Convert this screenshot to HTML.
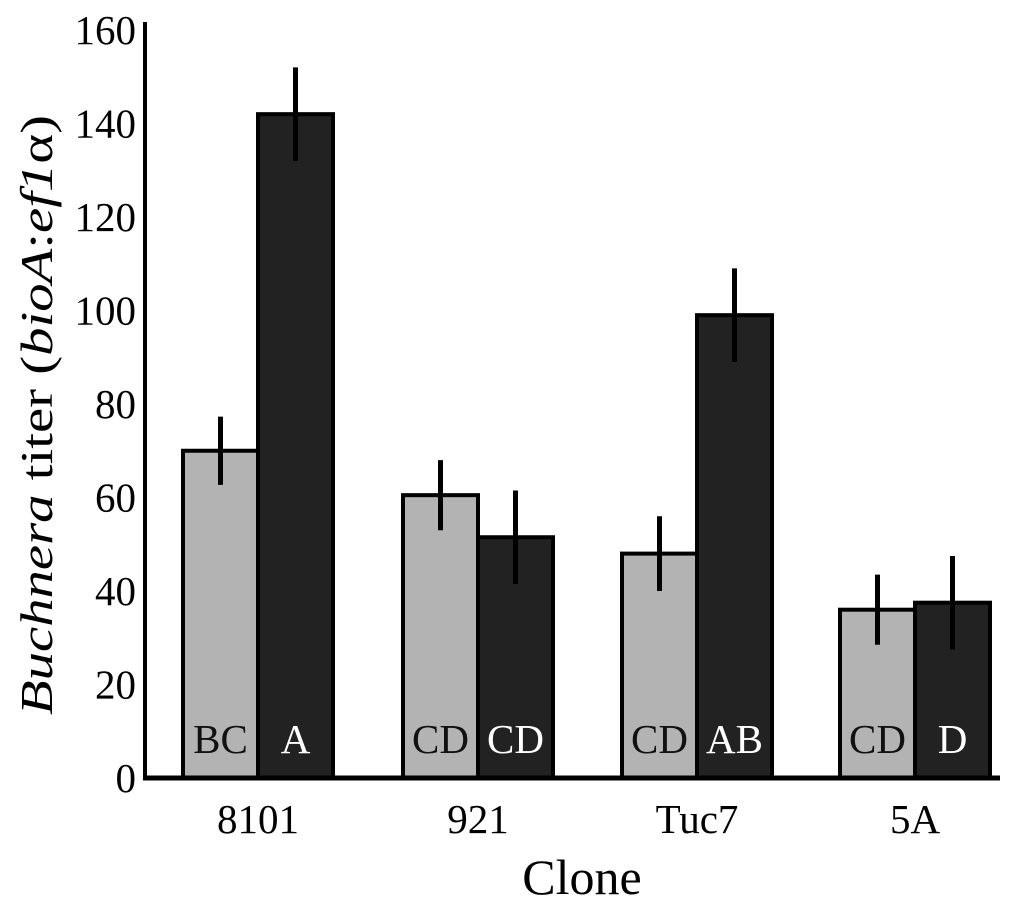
<!DOCTYPE html>
<html><head><meta charset="utf-8"><style>
body{margin:0;background:#fff;}
svg text{font-family:"Liberation Serif",serif;}
</style></head><body>
<svg id="chart" width="1024" height="906" xmlns="http://www.w3.org/2000/svg">
<g id="bars"></g>
<g id="axes"></g>
</svg>
<script>
const categories = ["8101","921","Tuc7","5A"];
const lightValues = [70,60.5,48,36];
const darkValues = [142,51.5,99,37.5];
const lightErr = [7.3,7.5,8,7.5];
const darkErr = [10,10,10,10];
const lightLetters = ["BC","CD","CD","CD"];
const darkLetters = ["A","CD","AB","D"];
const yTicks = [0,20,40,60,80,100,120,140,160];

const NS="http://www.w3.org/2000/svg";
const y0=778, yTop=30, yMax=160;
function y(v){return y0-(y0-yTop)*v/yMax;}
const groupCenters=[258,478,697,915];
const bw=75;
function mk(tag,attrs,parent,text){const e=document.createElementNS(NS,tag);for(const k in attrs)e.setAttribute(k,attrs[k]);if(text!==undefined)e.textContent=text;parent.appendChild(e);return e;}
const bars=document.getElementById('bars'), axes=document.getElementById('axes');
categories.forEach((c,i)=>{
  const cx=groupCenters[i];
  [[lightValues,lightErr,lightLetters,"#b3b3b3","#111",cx-bw,"light"],[darkValues,darkErr,darkLetters,"#222","#fff",cx,"dark"]].forEach(([vals,errs,lets,fill,tc,x,kind])=>{
    const r=mk('rect',{x:x,y:y(vals[i]),width:bw,height:y0-y(vals[i]),fill:fill,stroke:"#000","stroke-width":4},bars);
    
    
    const e=mk('line',{x1:x+bw/2,x2:x+bw/2,y1:y(vals[i]+errs[i]),y2:y(vals[i]-errs[i]),stroke:"#000","stroke-width":5},bars);
    
    
    const t=mk('text',{x:x+bw/2,y:753,"text-anchor":"middle","font-size":41,fill:tc},bars,lets[i]);
    
    
  });
  const l=mk('text',{x:cx,y:833,"text-anchor":"middle","font-size":41,fill:"#000"},axes,c);
  
  
});
const ya=mk('line',{x1:145,x2:145,y1:22,y2:780,stroke:"#000","stroke-width":4},axes);


const xa=mk('line',{x1:143,x2:1000,y1:778,y2:778,stroke:"#000","stroke-width":5},axes);


yTicks.forEach(v=>{
  const t=mk('text',{x:136,y:y(v)+14,"text-anchor":"end","font-size":41,fill:"#000"},axes,String(v));
  
  
});
const xt=mk('text',{x:582,y:894,"text-anchor":"middle","font-size":50,fill:"#000"},axes,"Clone");


const yt=mk('text',{x:0,y:0,"text-anchor":"middle","font-size":46,fill:"#000",textLength:600,lengthAdjust:"spacingAndGlyphs",transform:"translate(52,415) rotate(-90)"},axes);


yt.innerHTML='<tspan font-style="italic">Buchnera</tspan> titer (<tspan font-style="italic">bioA</tspan>:<tspan font-style="italic">ef1</tspan>α)';
</script>
</body></html>
